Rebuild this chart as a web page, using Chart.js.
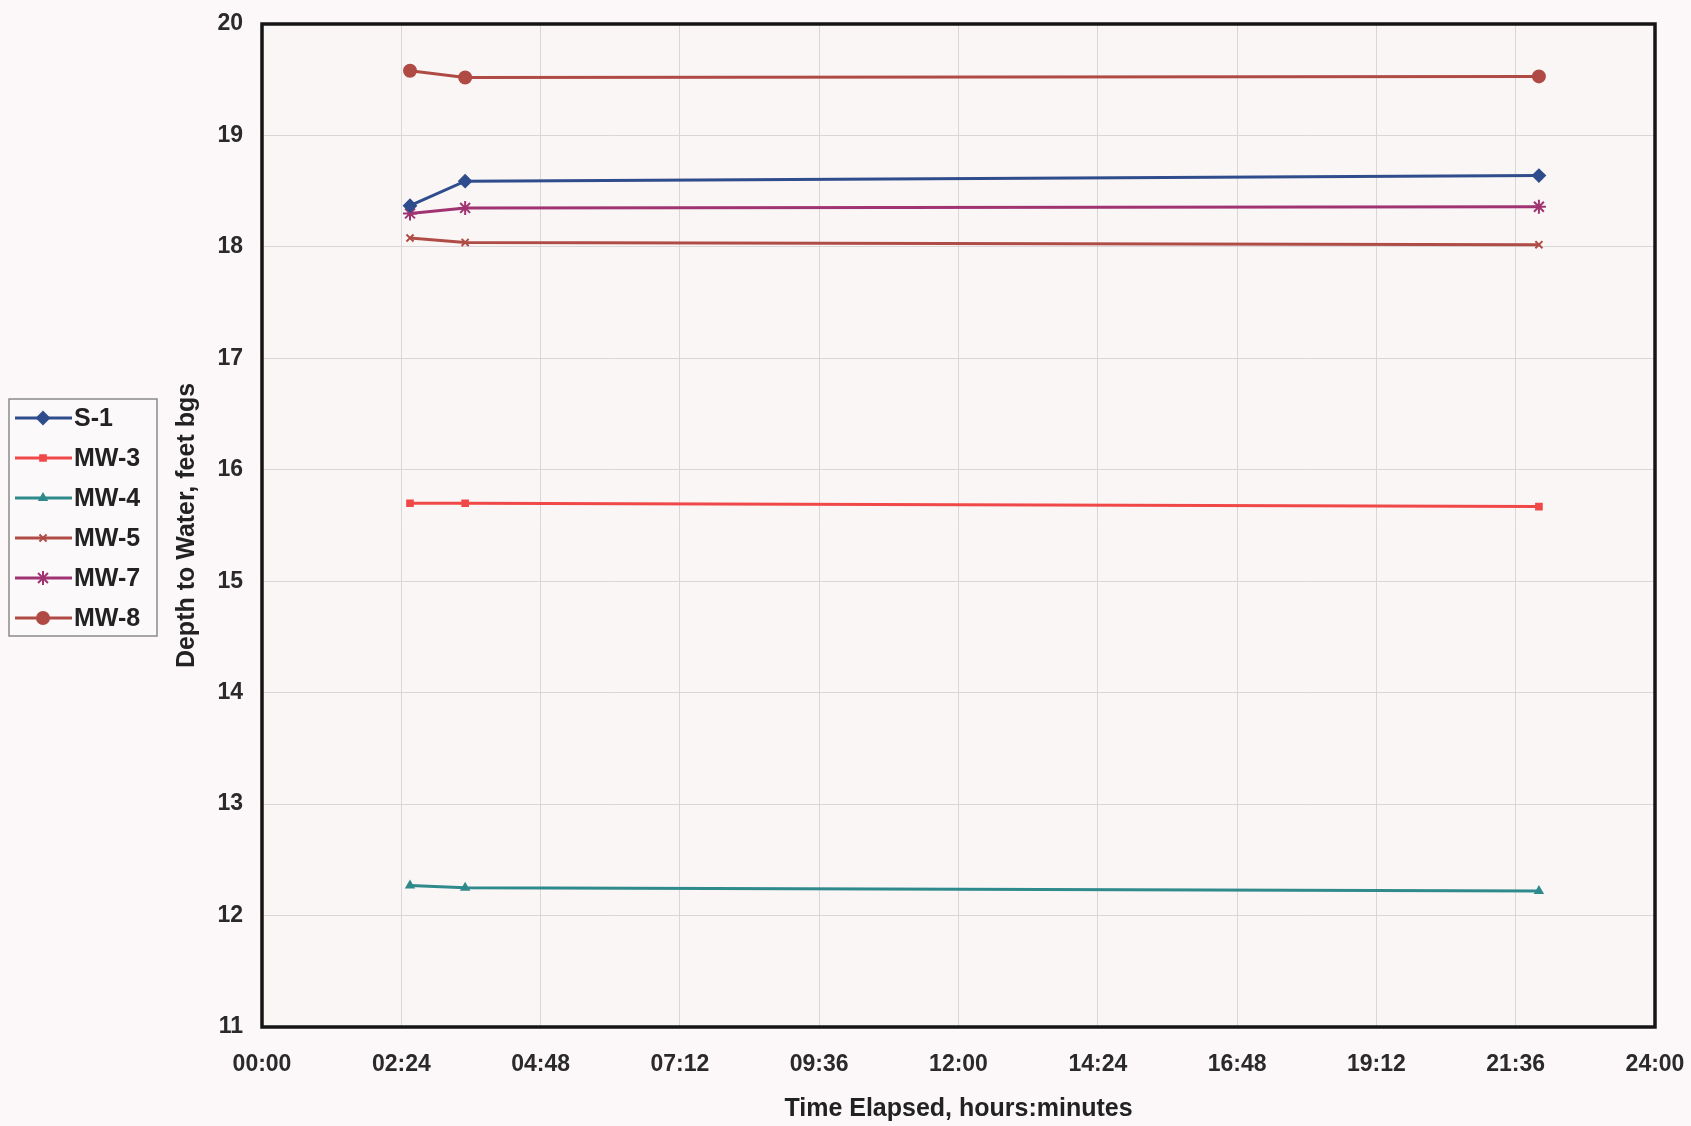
<!DOCTYPE html>
<html>
<head>
<meta charset="utf-8">
<script src="https://cdn.jsdelivr.net/npm/chart.js@4/dist/chart.umd.min.js"></script>
<style>
  html, body { margin: 0; padding: 0; background: #fcf7f8; }
  #wrap { width: 1691px; height: 1126px; position: relative; }
</style>
</head>
<body>
<div id="wrap"><canvas id="c" width="1691" height="1126"></canvas></div>
<script>
// Elapsed time in hours
const times = [2.55, 3.5, 22.0];
const seriesNames = ['S-1', 'MW-3', 'MW-4', 'MW-5', 'MW-7', 'MW-8'];
const s1  = [18.37, 18.59, 18.64];
const mw3 = [15.70, 15.70, 15.67];
const mw4 = [12.27, 12.25, 12.22];
const mw5 = [18.08, 18.04, 18.02];
const mw7 = [18.30, 18.35, 18.36];
const mw8 = [19.58, 19.52, 19.53];
const seriesValues = [s1, mw3, mw4, mw5, mw7, mw8];
const yMin = 11, yMax = 20, yStep = 1;
const xMin = 0, xMax = 24, xStep = 2.4;

const styles = [
  { color: '#2f4c8c', point: 'rectRot', radius: 6 },
  { color: '#f04848', point: 'rect', radius: 4 },
  { color: '#2f8a8c', point: 'triangle', radius: 4 },
  { color: '#b04c46', point: 'crossRot', radius: 5 },
  { color: '#a03472', point: 'star', radius: 7 },
  { color: '#b04a45', point: 'circle', radius: 6 }
];

const FONT = '"Liberation Sans", Arial, sans-serif';

function fmtTime(v) {
  const m = Math.round(v * 60);
  const h = Math.floor(m / 60), mm = m % 60;
  return String(h).padStart(2, '0') + ':' + String(mm).padStart(2, '0');
}

const datasets = seriesNames.map((name, i) => ({
  label: name,
  data: times.map((t, j) => ({ x: t, y: seriesValues[i][j] })),
  borderColor: styles[i].color,
  backgroundColor: styles[i].color,
  pointStyle: styles[i].point,
  pointRadius: styles[i].radius,
  pointBorderWidth: 2,
  borderWidth: 3,
  tension: 0
}));

const frame = {
  id: 'frame',
  beforeDraw(chart) {
    const { ctx, chartArea: a } = chart;
    ctx.save();
    ctx.fillStyle = '#fcf7f8';
    ctx.fillRect(0, 0, chart.width, chart.height);
    ctx.fillStyle = '#faf6f6';
    ctx.fillRect(a.left, a.top, a.right - a.left, a.bottom - a.top);
    ctx.restore();
  },
  afterDraw(chart) {
    const { ctx, chartArea: a } = chart;
    ctx.save();
    ctx.strokeStyle = '#151515';
    ctx.lineWidth = 3.5;
    ctx.strokeRect(a.left, a.top, a.right - a.left, a.bottom - a.top);
    // legend
    const bx = 9, by = 399, bw = 148, bh = 237;
    ctx.fillStyle = '#fcf9fa';
    ctx.fillRect(bx, by, bw, bh);
    ctx.strokeStyle = '#8a8a8a';
    ctx.lineWidth = 1.5;
    ctx.strokeRect(bx, by, bw, bh);
    ctx.font = 'bold 25px ' + FONT;
    ctx.textBaseline = 'middle';
    ctx.textAlign = 'left';
    chart.data.datasets.forEach((ds, i) => {
      const y = 418 + i * 40;
      ctx.strokeStyle = ds.borderColor;
      ctx.lineWidth = 3;
      ctx.beginPath();
      ctx.moveTo(15, y);
      ctx.lineTo(72, y);
      ctx.stroke();
      ctx.fillStyle = ds.backgroundColor;
      ctx.lineWidth = 2;
      Chart.helpers.drawPoint(ctx, { pointStyle: ds.pointStyle, radius: ds.pointRadius, rotation: 0, borderWidth: 2 }, 43, y);
      ctx.fillStyle = '#222';
      ctx.fillText(ds.label, 74, y + 1);
    });
    ctx.restore();
  }
};

function noPad(s) {
  s.paddingLeft = 0; s.paddingRight = 0; s.paddingTop = 0; s.paddingBottom = 0;
}

new Chart(document.getElementById('c'), {
  type: 'line',
  data: { datasets },
  plugins: [frame],
  options: {
    responsive: false,
    animation: false,
    layout: { padding: { left: 168, right: 36, top: 24, bottom: 0 } },
    plugins: { legend: { display: false }, tooltip: { enabled: false } },
    scales: {
      x: {
        type: 'linear',
        min: xMin, max: xMax,
        afterFit(s) { s.height = 99; noPad(s); },
        grid: { color: '#d9d6d7', lineWidth: 1, drawTicks: false },
        border: { display: false },
        ticks: {
          stepSize: xStep,
          padding: 24,
          color: '#2a2a2a',
          font: { family: FONT, size: 23, weight: 'bold' },
          maxRotation: 0,
          autoSkip: false,
          callback: (v) => fmtTime(v)
        },
        title: {
          display: true,
          text: 'Time Elapsed, hours:minutes',
          color: '#222',
          font: { family: FONT, size: 25, weight: 'bold' },
          padding: { top: 0, bottom: 2 }
        }
      },
      y: {
        type: 'linear',
        min: yMin, max: yMax,
        afterFit(s) { s.width = 94; noPad(s); },
        grid: { color: '#d9d6d7', lineWidth: 1, drawTicks: false },
        border: { display: false },
        ticks: {
          stepSize: yStep,
          padding: 19,
          color: '#2a2a2a',
          font: { family: FONT, size: 23, weight: 'bold' }
        },
        title: {
          display: true,
          text: 'Depth to Water, feet bgs',
          color: '#222',
          font: { family: FONT, size: 25, weight: 'bold' },
          padding: { top: 4, bottom: 0 }
        }
      }
    }
  }
});
</script>
</body>
</html>
